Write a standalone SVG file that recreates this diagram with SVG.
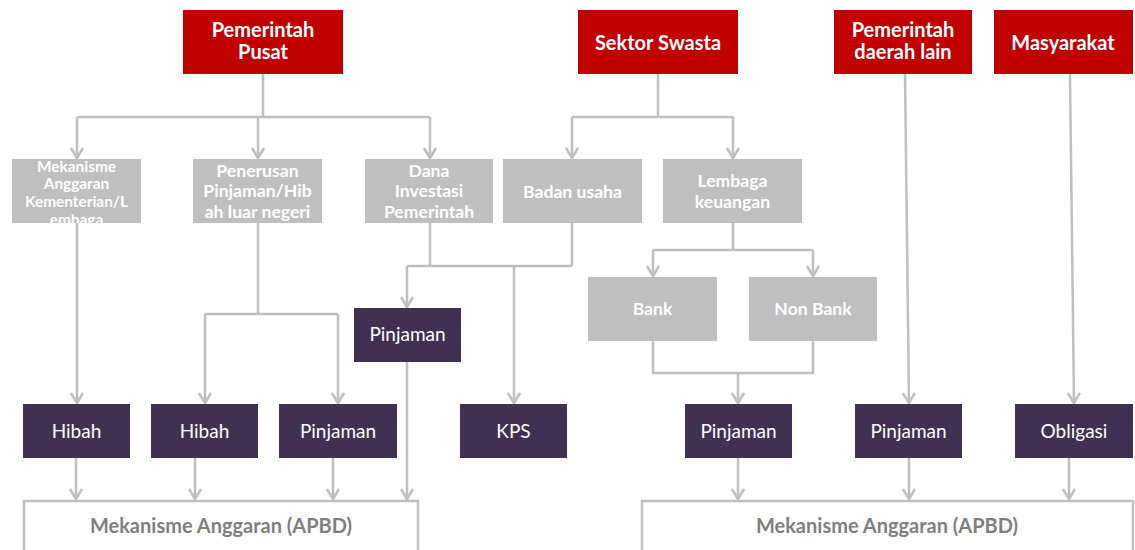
<svg xmlns="http://www.w3.org/2000/svg" width="1135" height="550" viewBox="0 0 1135 550">
<style>
.red{fill:#c00000}
.gray{fill:#bfbfbf}
.pur{fill:#403152}
.t{font-family:Lato,"Open Sans","Liberation Sans",sans-serif;fill:#fff;text-anchor:middle;dominant-baseline:central}
.tr{font-size:20px;font-weight:bold}
.tg{font-size:17.6px;font-weight:bold}
.tp{font-size:19px}
.tm{font-size:15.4px;font-weight:bold}
.ln{fill:none;stroke:#bfbfbf;stroke-width:2.5}
.ar{marker-end:url(#arr)}
.apbd{font-family:Lato,"Open Sans","Liberation Sans",sans-serif;fill:#7f7f7f;font-size:20px;font-weight:bold;text-anchor:middle;dominant-baseline:central}
</style>
<defs>
<marker id="arr" viewBox="-7 -11 14 12" markerUnits="userSpaceOnUse" markerWidth="14" markerHeight="12" refX="0" refY="0" orient="auto-start-reverse" overflow="visible">
<path d="M-6,-10 L0,0 L6,-10" fill="none" stroke="#bfbfbf" stroke-width="2.5" transform="rotate(-90)"/>
</marker>
<clipPath id="cm"><rect x="12" y="159" width="129" height="64"/></clipPath>
</defs>

<g id="connectors">
<path class="ln" d="M263,74 V117 M77,117 H430"/>
<path class="ln ar" d="M77,117 V158"/>
<path class="ln ar" d="M258,117 V158"/>
<path class="ln ar" d="M430,117 V158"/>
<path class="ln" d="M658,74 V117 M572,117 H733"/>
<path class="ln ar" d="M572,117 V158"/>
<path class="ln ar" d="M733,117 V158"/>
<path class="ln ar" d="M77,223 V403"/>
<path class="ln" d="M258,223 V314 M205,314 H338"/>
<path class="ln ar" d="M205,314 V403"/>
<path class="ln ar" d="M338,314 V403"/>
<path class="ln" d="M430,223 V266 M407,266 H572 M572,223 V266"/>
<path class="ln ar" d="M407,266 V307"/>
<path class="ln ar" d="M514,266 V403"/>
<path class="ln" d="M733,223 V250 M653,250 H813"/>
<path class="ln ar" d="M653,250 V276"/>
<path class="ln ar" d="M813,250 V276"/>
<path class="ln" d="M653,341 V373 H813 V341"/>
<path class="ln ar" d="M738,373 V403"/>
<path class="ln ar" d="M905,74 L909,403"/>
<path class="ln ar" d="M1070,74 L1074,403"/>
<path class="ln ar" d="M76,458 V499"/>
<path class="ln ar" d="M195,458 V499"/>
<path class="ln ar" d="M333,458 V499"/>
<path class="ln ar" d="M407,362 V499"/>
<path class="ln ar" d="M738,458 V499"/>
<path class="ln ar" d="M909,458 V499"/>
<path class="ln ar" d="M1069,458 V499"/>
</g>

<g id="pemerintah-pusat"><rect class="red" x="183" y="10" width="160" height="64"/><text class="t tr" x="263" y="29">Pemerintah</text><text class="t tr" x="263" y="51">Pusat</text></g>
<g id="sektor-swasta"><rect class="red" x="578" y="10" width="160" height="64"/><text class="t tr" x="658" y="42">Sektor Swasta</text></g>
<g id="pemerintah-daerah-lain"><rect class="red" x="834" y="10" width="138" height="64"/><text class="t tr" x="903" y="29">Pemerintah</text><text class="t tr" x="903" y="51">daerah lain</text></g>
<g id="masyarakat"><rect class="red" x="994" y="10" width="139" height="64"/><text class="t tr" x="1063" y="42">Masyarakat</text></g>

<g id="mekanisme-kl"><rect class="gray" x="12" y="159" width="129" height="64"/><g clip-path="url(#cm)"><text class="t tm" x="76.5" y="165.5">Mekanisme</text><text class="t tm" x="76.5" y="183">Anggaran</text><text class="t tm" x="76.5" y="201">Kementerian/L</text><text class="t tm" x="76.5" y="218.5">embaga</text></g></g>
<g id="penerusan"><rect class="gray" x="193" y="159" width="129" height="64"/><text class="t tg" x="257.5" y="170">Penerusan</text><text class="t tg" x="257.5" y="190.5">Pinjaman/Hib</text><text class="t tg" x="257.5" y="211">ah luar negeri</text></g>
<g id="dana-investasi"><rect class="gray" x="365" y="159" width="128" height="64"/><text class="t tg" x="429" y="170">Dana</text><text class="t tg" x="429" y="190.5">Investasi</text><text class="t tg" x="429" y="211">Pemerintah</text></g>
<g id="badan-usaha"><rect class="gray" x="503" y="159" width="139" height="64"/><text class="t tg" x="572.5" y="191">Badan usaha</text></g>
<g id="lembaga-keuangan"><rect class="gray" x="663" y="159" width="139" height="64"/><text class="t tg" x="732.5" y="180">Lembaga</text><text class="t tg" x="732.5" y="201.5">keuangan</text></g>
<g id="bank"><rect class="gray" x="588" y="277" width="129" height="64"/><text class="t tg" x="652.5" y="308">Bank</text></g>
<g id="non-bank"><rect class="gray" x="749" y="277" width="128" height="64"/><text class="t tg" x="813" y="308">Non Bank</text></g>

<g id="pinjaman-dip"><rect class="pur" x="354" y="308" width="107" height="54"/><text class="t tp" x="407.5" y="333">Pinjaman</text></g>
<g id="hibah-kl"><rect class="pur" x="23" y="404" width="107" height="54"/><text class="t tp" x="76.5" y="430">Hibah</text></g>
<g id="hibah-pln"><rect class="pur" x="151" y="404" width="107" height="54"/><text class="t tp" x="204.5" y="430">Hibah</text></g>
<g id="pinjaman-pln"><rect class="pur" x="279" y="404" width="118" height="54"/><text class="t tp" x="338" y="430">Pinjaman</text></g>
<g id="kps"><rect class="pur" x="460" y="404" width="107" height="54"/><text class="t tp" x="513.5" y="430">KPS</text></g>
<g id="pinjaman-lk"><rect class="pur" x="685" y="404" width="107" height="54"/><text class="t tp" x="738.5" y="430">Pinjaman</text></g>
<g id="pinjaman-daerah"><rect class="pur" x="855" y="404" width="107" height="54"/><text class="t tp" x="908.5" y="430">Pinjaman</text></g>
<g id="obligasi"><rect class="pur" x="1015" y="404" width="118" height="54"/><text class="t tp" x="1074" y="430">Obligasi</text></g>

<g id="apbd-1"><path class="ln" d="M24,552 V501 H418 V552"/><text class="apbd" x="221" y="525">Mekanisme Anggaran (APBD)</text></g>
<g id="apbd-2"><path class="ln" d="M642,552 V501 H1133 V552"/><text class="apbd" x="887" y="525">Mekanisme Anggaran (APBD)</text></g>
</svg>
